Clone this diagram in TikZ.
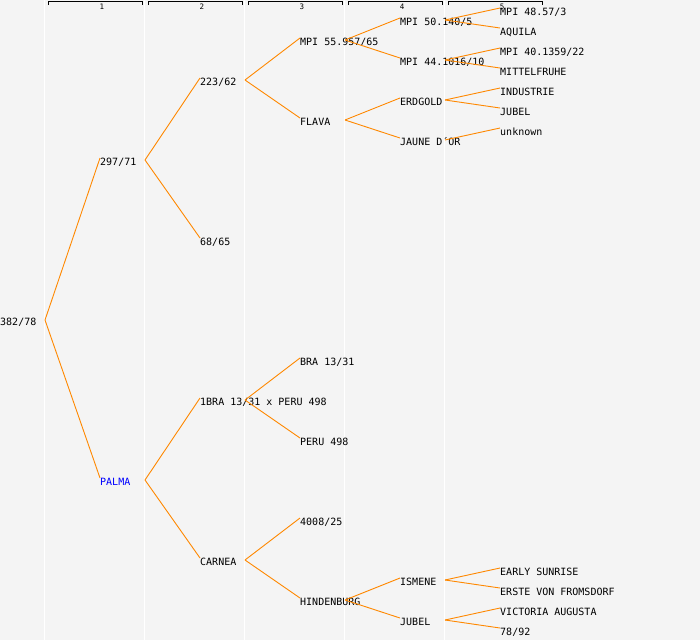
\documentclass[tikz,border=0pt]{standalone}
\usepackage{fontspec}
\setmonofont{DejaVu Sans Mono}
\definecolor{panelGray}{HTML}{F4F4F4}
\definecolor{branchOrange}{HTML}{FF8800}
\definecolor{nameBlue}{HTML}{0000FF}
\begin{document}
\begin{tikzpicture}[
    x=1pt, y=-1pt,
    every node/.style={inner sep=0pt, anchor=north west, text height=7pt, text depth=2pt,
        font=\ttfamily\fontsize{10}{12}\selectfont},
    branch/.style={draw=branchOrange, line width=0.9pt},
    column rule/.style={draw=white, line width=1.2pt},
    column bracket/.style={draw=black, line width=0.8pt},
    column number/.style={anchor=center, text height=, text depth=, font=\ttfamily\fontsize{7.5}{8}\selectfont},
    ]
\fill[panelGray] (0,0) rectangle (700,640);
\useasboundingbox (0,0) rectangle (700,640);
\foreach \x in {44.5,144.5,244.5,344.5,444.5}
    \draw[column rule] (\x,0) -- (\x,640);
\foreach \c in {1,...,5} {
    \draw[column bracket] ({100*\c-52},5) -- ({100*\c-52},1.5) -- ({100*\c+42.5},1.5) -- ({100*\c+42.5},5);
    \node[column number] (col\c) at ({100*\c+2},6.5) {\c};
}
% generation 0
\node (n0) at (0,318) {382/78};
\coordinate (f0) at (45,320);
% generation 1
\node (a1) at (100,158) {297/71};
\node[text=nameBlue] (a2) at (100,478) {PALMA};
\coordinate (fa1) at (145,160);
\coordinate (fa2) at (145,480);
% generation 2
\node (b1) at (200,78) {223/62};
\node (b2) at (200,238) {68/65};
\node (b3) at (200,398) {1BRA 13/31 x PERU 498};
\node (b4) at (200,558) {CARNEA};
\coordinate (fb1) at (245,80);
\coordinate (fb3) at (245,400);
\coordinate (fb4) at (245,560);
% generation 3
\node (c1) at (300,38) {MPI 55.957/65};
\node (c2) at (300,118) {FLAVA};
\node (c3) at (300,358) {BRA 13/31};
\node (c4) at (300,438) {PERU 498};
\node (c5) at (300,518) {4008/25};
\node (c6) at (300,598) {HINDENBURG};
\coordinate (fc1) at (345,40);
\coordinate (fc2) at (345,120);
\coordinate (fc6) at (345,600);
% generation 4
\node (d1) at (400,18) {MPI 50.140/5};
\node (d2) at (400,58) {MPI 44.1016/10};
\node (d3) at (400,98) {ERDGOLD};
\node (d4) at (400,138) {JAUNE D´OR};
\node (d5) at (400,578) {ISMENE};
\node (d6) at (400,618) {JUBEL};
\coordinate (fd1) at (445,20);
\coordinate (fd2) at (445,60);
\coordinate (fd3) at (445,100);
\coordinate (fd4) at (445,140);
\coordinate (fd5) at (445,580);
\coordinate (fd6) at (445,620);
% generation 5
\node (e1) at (500,8) {MPI 48.57/3};
\node (e2) at (500,28) {AQUILA};
\node (e3) at (500,48) {MPI 40.1359/22};
\node (e4) at (500,68) {MITTELFRUHE};
\node (e5) at (500,88) {INDUSTRIE};
\node (e6) at (500,108) {JUBEL};
\node (e7) at (500,128) {unknown};
\node (e8) at (500,568) {EARLY SUNRISE};
\node (e9) at (500,588) {ERSTE VON FROMSDORF};
\node (e10) at (500,608) {VICTORIA AUGUSTA};
\node (e11) at (500,628) {78/92};
% branches
\draw[branch] (f0) -- (a1.north west);
\draw[branch] (f0) -- (a2.north west);
\draw[branch] (fa1) -- (b1.north west);
\draw[branch] (fa1) -- (b2.north west);
\draw[branch] (fa2) -- (b3.north west);
\draw[branch] (fa2) -- (b4.north west);
\draw[branch] (fb1) -- (c1.north west);
\draw[branch] (fb1) -- (c2.north west);
\draw[branch] (fb3) -- (c3.north west);
\draw[branch] (fb3) -- (c4.north west);
\draw[branch] (fb4) -- (c5.north west);
\draw[branch] (fb4) -- (c6.north west);
\draw[branch] (fc1) -- (d1.north west);
\draw[branch] (fc1) -- (d2.north west);
\draw[branch] (fc2) -- (d3.north west);
\draw[branch] (fc2) -- (d4.north west);
\draw[branch] (fc6) -- (d5.north west);
\draw[branch] (fc6) -- (d6.north west);
\draw[branch] (fd1) -- (e1.north west);
\draw[branch] (fd1) -- (e2.north west);
\draw[branch] (fd2) -- (e3.north west);
\draw[branch] (fd2) -- (e4.north west);
\draw[branch] (fd3) -- (e5.north west);
\draw[branch] (fd3) -- (e6.north west);
\draw[branch] (fd4) -- (e7.north west);
\draw[branch] (fd5) -- (e8.north west);
\draw[branch] (fd5) -- (e9.north west);
\draw[branch] (fd6) -- (e10.north west);
\draw[branch] (fd6) -- (e11.north west);
\end{tikzpicture}
\end{document}
